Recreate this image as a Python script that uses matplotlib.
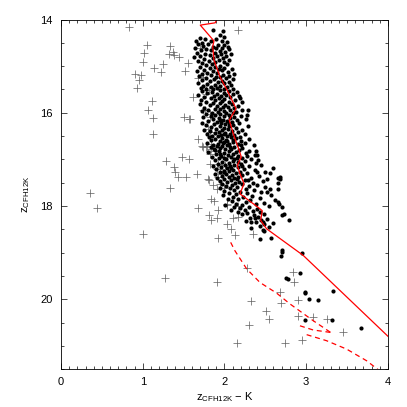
import numpy as np
import matplotlib
matplotlib.use("Agg")
import matplotlib.pyplot as plt
from matplotlib.ticker import MultipleLocator

plt.rcParams['font.family'] = ['Liberation Sans', 'DejaVu Sans']
plt.rcParams['mathtext.fontset'] = 'custom'
plt.rcParams['mathtext.rm'] = 'Liberation Sans'

# --- probable members (black dots): (colour, magnitude) ---
members = [
    (1.86, 14.23), (1.98, 14.25), (1.95, 14.33), (2.00, 14.38), (1.70, 14.40), (1.76, 14.42), (1.90, 14.41),
    (1.97, 14.45), (1.65, 14.47), (1.83, 14.46), (2.03, 14.49), (1.72, 14.50),
    (1.68, 14.52), (1.80, 14.53), (1.92, 14.54), (1.99, 14.55), (1.74, 14.57), (1.86, 14.58), (2.04, 14.58),
    (1.64, 14.60), (1.90, 14.61), (1.97, 14.62), (1.78, 14.63), (2.06, 14.64), (1.71, 14.66), (1.84, 14.66),
    (1.94, 14.67), (2.01, 14.69), (1.67, 14.71), (1.88, 14.71), (1.76, 14.73), (1.96, 14.74), (2.08, 14.74),
    (1.82, 14.76), (1.70, 14.78), (1.91, 14.78), (2.02, 14.79), (1.63, 14.81), (1.86, 14.82), (1.98, 14.83),
    (1.75, 14.84), (1.93, 14.86), (2.05, 14.87), (1.68, 14.88), (1.81, 14.89), (1.89, 14.91), (1.99, 14.92),
    (1.73, 14.94), (1.85, 14.95), (2.03, 14.96), (1.78, 14.98), (1.95, 14.99),
    (1.70, 15.01), (1.88, 15.02), (2.00, 15.03), (1.82, 15.05), (1.93, 15.06), (2.09, 15.06), (1.75, 15.08),
    (1.97, 15.09), (1.67, 15.11), (1.86, 15.11), (2.04, 15.12), (1.79, 15.14), (1.91, 15.15), (2.12, 15.16),
    (1.72, 15.17), (1.98, 15.18), (1.84, 15.19), (2.06, 15.21), (1.69, 15.22), (1.90, 15.23), (1.95, 15.24),
    (1.77, 15.25), (2.02, 15.26), (1.87, 15.28), (2.10, 15.28), (1.73, 15.30), (1.97, 15.31), (1.82, 15.32),
    (2.05, 15.33), (1.92, 15.35), (1.68, 15.36), (2.00, 15.37), (1.79, 15.38), (1.88, 15.40), (2.08, 15.40),
    (1.74, 15.42), (1.95, 15.43), (2.03, 15.44), (1.83, 15.45), (1.71, 15.47), (1.91, 15.47), (1.99, 15.48),
    (2.11, 15.49), (1.86, 15.50), (1.77, 15.50),
    (1.94, 15.52), (2.06, 15.53), (1.72, 15.54), (1.85, 15.55), (2.15, 15.55), (1.99, 15.57), (1.79, 15.58),
    (1.91, 15.59), (2.10, 15.60), (1.68, 15.61), (2.02, 15.62), (1.87, 15.63), (1.96, 15.64), (2.18, 15.64),
    (1.75, 15.66), (2.07, 15.67), (1.83, 15.68), (1.93, 15.69), (2.00, 15.70), (1.71, 15.72), (2.13, 15.72),
    (1.89, 15.73), (1.97, 15.75), (2.05, 15.76), (1.78, 15.77), (2.21, 15.77), (1.86, 15.79), (1.94, 15.80),
    (2.09, 15.81), (1.70, 15.82), (2.01, 15.83), (1.82, 15.84), (2.16, 15.85), (1.91, 15.86), (1.98, 15.87),
    (2.04, 15.88), (1.75, 15.89), (2.12, 15.90), (1.88, 15.91), (1.95, 15.92), (2.22, 15.93), (1.80, 15.94),
    (2.07, 15.95), (1.99, 15.96), (1.73, 15.97), (1.92, 15.98), (2.14, 15.98), (1.85, 16.00), (2.02, 16.00),
    (2.10, 16.01),
    (1.77, 16.02), (1.95, 16.03), (2.05, 16.04), (1.89, 16.05), (2.20, 16.06), (1.83, 16.07), (2.00, 16.08),
    (2.12, 16.09), (1.74, 16.10), (1.93, 16.11), (2.07, 16.12), (1.86, 16.13), (2.26, 16.13), (1.98, 16.15),
    (2.15, 16.16), (1.80, 16.17), (2.03, 16.18), (1.91, 16.19), (2.09, 16.20), (1.72, 16.21), (1.96, 16.22),
    (2.18, 16.23), (1.87, 16.24), (2.01, 16.25), (2.11, 16.26), (1.78, 16.27), (1.94, 16.28), (2.06, 16.29),
    (2.29, 16.29), (1.84, 16.31), (1.99, 16.32), (2.14, 16.32), (1.90, 16.34), (2.04, 16.35), (1.75, 16.36),
    (2.22, 16.36), (1.97, 16.38), (2.09, 16.39), (1.82, 16.40), (1.93, 16.41), (2.16, 16.42), (2.01, 16.43),
    (1.88, 16.44), (2.07, 16.45), (1.79, 16.46), (2.25, 16.46), (1.96, 16.47), (2.12, 16.48), (1.85, 16.49),
    (2.03, 16.50), (1.92, 16.50), (2.19, 16.51), (1.99, 16.45), (2.05, 16.22), (1.95, 16.16),
    (1.81, 16.52), (2.08, 16.53), (1.97, 16.54), (2.14, 16.55), (1.89, 16.56), (2.30, 16.56), (2.02, 16.58),
    (1.84, 16.59), (2.20, 16.60), (1.94, 16.61), (2.10, 16.62), (2.00, 16.63), (1.79, 16.64), (2.25, 16.64),
    (1.92, 16.66), (2.06, 16.67), (2.16, 16.68), (1.86, 16.69), (2.03, 16.70), (2.36, 16.70), (1.97, 16.72),
    (2.12, 16.73), (1.83, 16.74), (2.22, 16.75), (1.95, 16.76), (2.08, 16.77), (2.01, 16.78), (1.88, 16.80),
    (2.18, 16.80), (2.30, 16.81), (1.93, 16.82), (2.05, 16.83), (2.14, 16.84), (1.80, 16.85), (1.99, 16.86),
    (2.26, 16.87), (2.10, 16.88), (1.90, 16.89), (2.04, 16.90), (2.40, 16.90), (1.96, 16.92), (2.17, 16.92),
    (1.85, 16.94), (2.08, 16.95), (2.00, 16.96), (2.22, 16.97), (1.93, 16.98), (2.12, 16.99), (2.33, 16.99),
    (2.02, 17.00), (1.98, 16.65), (2.11, 16.58), (1.91, 16.71), (2.03, 16.61), (2.20, 16.70), (1.87, 16.78),
    (2.15, 16.96), (2.07, 16.73), (1.95, 16.88), (2.28, 16.93),
    (1.88, 17.02), (2.10, 17.03), (2.25, 17.04), (1.97, 17.05), (2.16, 17.06), (2.05, 17.07), (2.38, 17.07),
    (1.92, 17.09), (2.20, 17.10), (2.01, 17.11), (2.12, 17.12), (2.45, 17.12), (1.86, 17.14), (2.07, 17.14),
    (2.30, 17.15), (1.96, 17.16), (2.17, 17.17), (2.03, 17.19), (2.24, 17.20), (1.90, 17.21), (2.11, 17.22),
    (2.37, 17.22), (1.99, 17.24), (2.06, 17.25), (2.19, 17.26), (2.50, 17.26), (1.94, 17.28), (2.14, 17.29),
    (2.28, 17.30), (2.02, 17.31), (1.88, 17.32), (2.09, 17.33), (2.22, 17.34), (2.42, 17.35), (1.97, 17.36),
    (2.16, 17.37), (2.05, 17.38), (2.33, 17.39), (1.91, 17.40), (2.12, 17.41), (2.66, 17.41), (2.00, 17.43),
    (2.25, 17.44), (2.08, 17.45), (2.47, 17.46), (1.95, 17.47), (2.18, 17.48), (2.03, 17.49), (2.35, 17.50),
    (2.13, 17.50), (2.56, 17.30), (2.60, 17.18), (2.68, 17.38), (2.52, 17.43), (2.40, 17.28), (2.29, 17.45),
    (2.21, 17.15), (2.08, 17.18), (2.00, 17.27), (2.15, 17.43),
    (1.97, 17.52), (2.22, 17.53), (2.09, 17.54), (2.40, 17.55), (2.02, 17.57), (2.30, 17.58), (2.15, 17.59),
    (2.50, 17.60), (1.94, 17.61), (2.07, 17.62), (2.26, 17.63), (2.66, 17.63), (2.12, 17.65), (2.36, 17.66),
    (2.00, 17.68), (2.19, 17.69), (2.45, 17.70), (2.05, 17.72), (2.28, 17.73), (2.14, 17.75), (2.57, 17.76),
    (1.98, 17.77), (2.34, 17.78), (2.10, 17.80), (2.23, 17.81), (2.43, 17.83), (2.04, 17.84), (2.17, 17.86),
    (2.31, 17.87), (2.62, 17.88), (2.09, 17.90), (2.26, 17.92), (2.48, 17.93), (2.14, 17.95), (2.38, 17.96),
    (2.01, 17.97), (2.21, 17.98), (2.55, 17.99), (2.67, 17.96), (2.70, 18.02),
    (2.12, 18.02), (2.30, 18.03), (2.19, 18.05), (2.40, 18.06), (2.25, 18.08), (2.08, 18.09), (2.35, 18.10),
    (2.44, 18.12), (2.16, 18.13), (2.28, 18.15), (2.48, 18.17), (2.22, 18.18), (2.36, 18.20), (2.41, 18.23),
    (2.31, 18.26), (2.52, 18.27), (2.45, 18.30), (2.26, 18.32), (2.39, 18.35), (2.49, 18.38), (2.60, 18.36),
    (2.43, 18.43), (2.54, 18.45), (2.32, 18.47), (2.47, 18.52),
    (2.44, 18.71), (2.48, 18.54), (2.57, 18.68), (2.66, 17.92), (2.65, 17.51), (2.70, 18.20), (2.73, 18.17),
    (2.79, 18.31), (2.33, 18.35), (2.47, 18.35), (2.37, 18.25), (2.68, 17.42), (2.52, 17.70), (2.39, 16.81),
    (2.37, 16.91), (2.27, 16.05), (2.29, 15.95), (2.19, 15.69), (2.41, 17.02), (2.56, 17.63),
    (2.70, 18.94), (2.70, 18.98), (2.69, 19.07), (2.95, 19.00), (2.92, 19.43), (2.75, 19.54), (2.78, 19.57),
    (2.98, 19.85), (2.99, 19.87), (3.03, 20.00), (3.15, 20.02), (3.33, 19.83), (2.99, 20.45), (3.32, 20.45),
    (3.67, 20.62),
]

# --- field stars (grey crosses) ---
field = [
    (0.83, 14.15), (1.05, 14.55), (1.01, 14.71), (1.00, 14.91), (0.91, 15.16), (0.98, 15.20), (0.96, 15.30),
    (0.93, 15.46), (1.14, 15.03), (1.22, 15.12), (1.25, 14.96), (1.33, 14.57), (1.32, 14.74), (1.37, 14.70),
    (1.38, 14.76), (1.44, 14.80), (1.55, 14.94), (1.52, 15.11), (1.11, 15.75), (1.07, 15.95), (1.12, 16.11),
    (1.12, 16.45), (1.61, 15.67), (1.51, 16.10), (1.56, 16.14), (1.58, 16.14), (1.68, 16.57), (1.29, 17.03),
    (1.48, 16.95), (1.56, 17.00), (1.38, 17.17), (1.39, 17.28), (1.43, 17.38), (1.53, 17.37), (1.67, 17.31),
    (1.33, 17.61), (0.36, 17.72), (0.44, 18.05), (2.17, 14.23), (1.74, 15.23), (1.74, 15.95), (1.78, 15.52),
    (1.82, 16.09), (1.74, 16.74), (1.82, 16.88), (1.81, 17.44), (1.86, 17.56), (1.95, 17.52), (1.84, 17.85),
    (2.03, 17.95), (1.92, 17.09), (1.99, 16.95), (1.68, 18.04), (1.87, 17.90), (1.92, 18.08), (2.03, 17.97),
    (2.16, 18.01), (1.81, 18.20), (1.84, 18.29), (1.91, 18.25), (2.03, 18.38), (2.11, 18.25), (2.16, 18.23),
    (2.08, 18.49), (2.13, 18.63), (1.92, 18.68), (2.35, 18.61), (1.00, 18.61), (1.27, 19.54), (1.91, 19.62),
    (2.28, 19.33), (2.32, 20.03), (2.51, 20.25), (2.54, 20.43), (2.30, 20.55), (2.15, 20.94), (2.74, 20.94),
    (2.95, 20.87), (2.84, 19.41), (2.85, 19.64), (2.68, 19.85), (2.69, 20.08), (2.90, 20.02), (2.90, 20.35),
    (3.08, 20.39), (3.26, 20.43), (3.45, 20.71), (1.80, 16.34), (1.82, 16.41), (1.73, 16.72), (1.78, 16.74),
    (1.84, 16.66), (1.88, 16.81), (1.80, 17.42), (1.91, 17.63), (1.99, 17.61), (1.82, 17.09), (1.91, 17.20),
    (1.97, 17.31), (2.01, 17.13), (1.79, 16.71), (1.84, 16.77), (1.92, 17.38), (1.95, 17.20), (1.70, 14.62),
    (1.68, 15.26), (1.78, 15.59), (1.76, 15.95), (1.82, 16.02), (1.81, 15.52),
]

# --- isochrone (solid) and lower dashed tracks ---
iso_x = [1.905, 1.887, 1.704, 1.872, 1.856, 1.872, 1.945, 2.034, 2.141, 2.059, 2.108, 2.181, 2.206, 2.157,
         2.190, 2.239, 2.190, 2.413, 2.462, 2.443, 2.516, 2.964, 4.016]
iso_y = [14.00, 14.07, 14.12, 14.46, 14.58, 14.87, 15.23, 15.52, 15.91, 16.16, 16.45, 16.81, 16.95, 17.13,
         17.31, 17.52, 17.74, 18.03, 18.10, 18.31, 18.49, 19.06, 20.82]

dash1_x = [2.076, 2.128, 2.272, 2.434, 2.639, 2.801, 3.086, 3.331]
dash1_y = [18.78, 18.96, 19.35, 19.64, 19.87, 20.10, 20.46, 20.75]
dash2_x = [2.924, 3.086, 3.331]
dash2_y = [20.57, 20.66, 20.72]
dash3_x = [3.006, 3.250, 3.495, 3.740, 3.902]
dash3_y = [20.76, 20.89, 21.07, 21.32, 21.54]

mx, my = zip(*members)
fx, fy = zip(*field)

fig = plt.figure(figsize=(4.07, 4.07), dpi=100)
ax = fig.add_axes([0.150, 0.093, 0.803, 0.859])

ax.plot(fx, fy, linestyle='none', marker='+', markersize=6, markeredgewidth=0.55, color='#6a6a6a')
ax.plot(mx, my, linestyle='none', marker='o', markersize=3.0, markeredgewidth=0, color='black')

ax.plot(iso_x, iso_y, color='red', linewidth=0.9)
for xs, ys in [(dash1_x, dash1_y), (dash2_x, dash2_y), (dash3_x, dash3_y)]:
    ax.plot(xs, ys, color='red', linewidth=0.9, dashes=(4, 3))

ax.set_xlim(0, 4)
ax.set_ylim(21.5, 14)
ax.xaxis.set_major_locator(MultipleLocator(1))
ax.xaxis.set_minor_locator(MultipleLocator(0.1))
ax.yaxis.set_major_locator(MultipleLocator(2))
ax.yaxis.set_minor_locator(MultipleLocator(0.5))
ax.tick_params(which='both', direction='in', top=True, right=True, labelsize=8, width=0.5, pad=6)
ax.tick_params(which='major', length=4)
ax.tick_params(which='minor', length=2.5)
for s in ax.spines.values():
    s.set_linewidth(0.6)

ax.set_xlabel(r'z$_{\mathrm{CFH12K}}$ $-$ K', fontsize=8, labelpad=2)
ax.set_ylabel(r'z$_{\mathrm{CFH12K}}$', fontsize=8, labelpad=6)

fig.savefig('out.png', dpi=100)
